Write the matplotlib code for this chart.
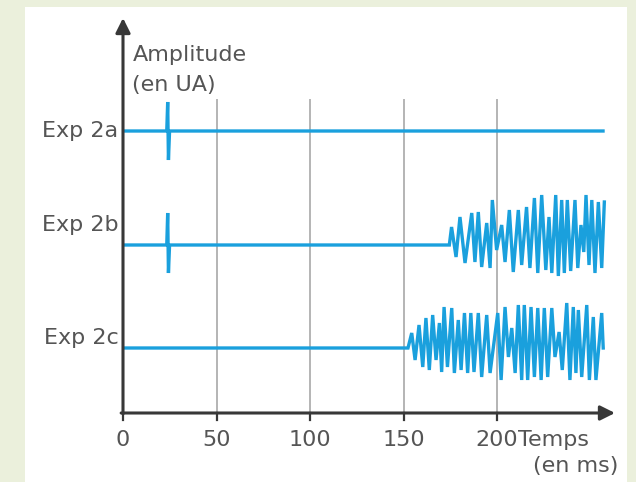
import numpy as np
import matplotlib
matplotlib.use("Agg")
from matplotlib import pyplot as plt
from matplotlib.patches import Rectangle

# ---- data (time in ms, amplitude in arbitrary units) ----
labels = ["Exp 2a", "Exp 2b", "Exp 2c"]
offsets = [282, 168, 65]

t_2a = [0, 23.4, 23.9, 24.3, 24.9, 256.7]
a_2a = [0, 0, 29, -29, 0, 0]

t_2b = [0, 23.4, 23.9, 24.3, 24.9, 174.5,
        175.7, 178.1, 180.2, 182.9, 186.5, 188.2, 190.0, 191.8, 194.5, 196.3,
        197.5, 199.8, 202.5, 204.3, 206.6, 208.7, 211.4, 213.2, 215.8, 217.6,
        220.0, 221.8, 223.9, 226.1, 227.8, 229.3, 231.4, 232.8, 234.6, 236.0,
        237.6, 239.4, 241.7, 243.2, 244.9, 246.4, 247.6, 249.2, 250.7, 252.4,
        254.2, 256.0, 257.4]
a_2b = [0, 0, 32, -28, 0, 0,
        18, -12, 28, -18, 32, -17, 33, -22, 22, -23,
        45, -5, 20, -17, 35, -27, 35, -20, 38, -23,
        47, -28, 50, -25, 28, -28, 50, -31, 45, -28,
        45, -26, 45, -23, 20, -7, 50, -20, 45, -28,
        43, -23, 43]

t_2c = [0, 152.4,
        154.4, 156.2, 158.3, 160.3, 162.0, 163.8, 165.6, 167.4, 169.2, 170.4,
        171.7, 173.5, 175.8, 177.2, 179.3, 180.8, 182.6, 184.3, 186.0, 187.7,
        190.0, 191.8, 194.5, 196.3, 200.4, 202.2, 204.3, 206.1, 207.9, 209.7,
        211.4, 213.2, 214.6, 216.4, 218.2, 220.0, 221.8, 223.6, 225.3, 227.1,
        229.3, 231.0, 233.2, 234.9, 237.3, 239.0, 240.8, 242.2, 243.5, 245.3,
        248.0, 249.4, 251.5, 252.9, 256.0, 256.8]
a_2c = [0, 0,
        15, -12, 23, -19, 30, -22, 33, -12, 25, -24,
        41, -19, 40, -25, 28, -22, 35, -25, 35, -24,
        35, -29, 33, -25, 35, -32, 41, -9, 20, -25,
        43, -32, 43, -32, 41, -29, 40, -32, 40, -29,
        40, -9, 16, -22, 45, -32, 41, -25, 38, -29,
        43, -32, 31, -32, 35, 0]

xticks = [0, 50, 100, 150, 200]

W, H = 636, 482
fig = plt.figure(figsize=(W / 100, H / 100), dpi=100, facecolor="#ebf0dc")
fig.patches.append(Rectangle((25 / W, 0), 602 / W, 475 / H, transform=fig.transFigure,
                             facecolor="white", edgecolor="none", zorder=-1))

# axes: x=0 at px 123, 50 ms = 93.5 px ; y=0 at px 413, top arrow at px 18
ax = fig.add_axes([123 / W, (H - 413) / H, (615 - 123) / W, (413 - 18) / H])
ax.set_zorder(2)
ax.set_xlim(0, (615 - 123) / 93.5 * 50)
ax.set_ylim(0, 395)
ax.axis("off")
ax.patch.set_alpha(0)

blue = "#1aa0dd"
grey_txt = "#555555"
axcol = "#383838"
fs = 16

for x in xticks[1:]:
    ax.plot([x, x], [0, 313], color="#b4b4b4", lw=1.4, zorder=1)
for x in xticks:
    ax.plot([x, x], [-7, 0], color=axcol, lw=1.6, clip_on=False, zorder=3)
    ax.text(x, -27, str(x), ha="center", va="center", fontsize=fs, color=grey_txt)

for t, a, off in zip([t_2a, t_2b, t_2c], [a_2a, a_2b, a_2c], offsets):
    ax.plot(t, np.array(a) + off, color=blue, lw=2.4, zorder=2, solid_joinstyle="miter")

for lab, off, dy in zip(labels, offsets, [0, 20, 10]):
    ax.text(-2.5, off + dy, lab, ha="right", va="center", fontsize=fs, color=grey_txt)

arrow = dict(arrowstyle="-|>", color=axcol, lw=2.2, mutation_scale=22, shrinkA=0, shrinkB=0)
ax.annotate("", xy=(0, 395), xytext=(0, -1), arrowprops=arrow, annotation_clip=False)
ax.annotate("", xy=(263.1, 0), xytext=(-1, 0), arrowprops=arrow, annotation_clip=False)

ax.text(5, 358, "Amplitude", ha="left", va="center", fontsize=fs, color=grey_txt)
ax.text(5, 328, "(en UA)", ha="left", va="center", fontsize=fs, color=grey_txt)
ax.text(211, -27, "Temps", ha="left", va="center", fontsize=fs, color=grey_txt)
ax.text(265, -53, "(en ms)", ha="right", va="center", fontsize=fs, color=grey_txt)

fig.savefig("out.png", dpi=100, facecolor=fig.get_facecolor())
